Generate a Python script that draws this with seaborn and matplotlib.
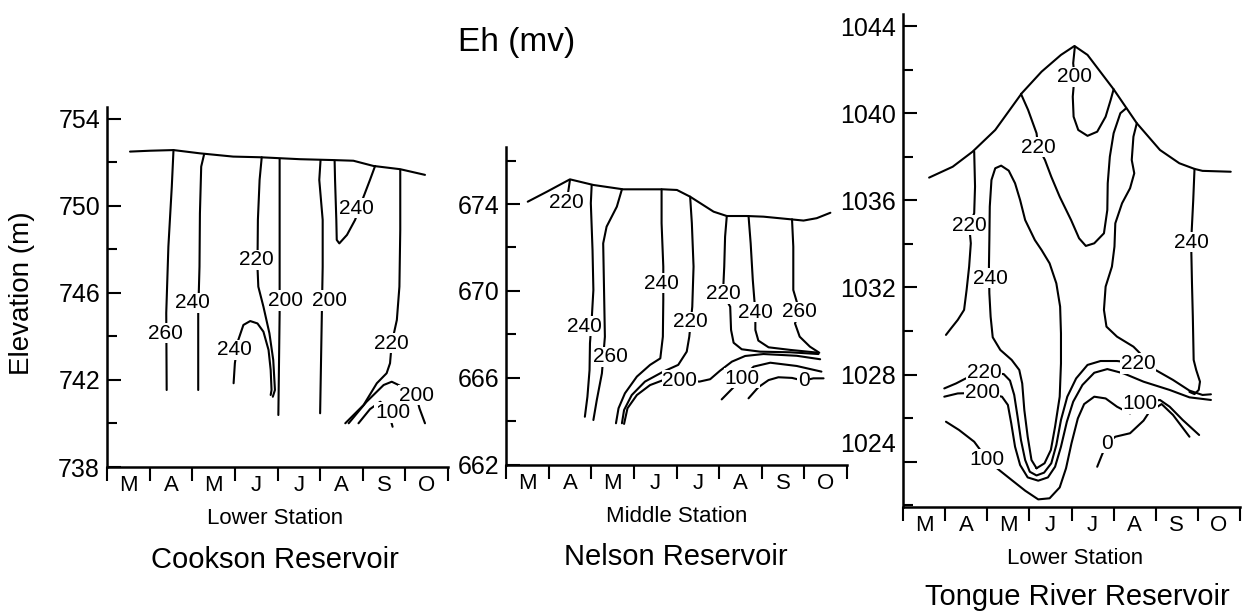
import matplotlib
matplotlib.use('Agg')
import matplotlib.pyplot as plt
import numpy as np
import seaborn as sns

sns.set_theme(style="white")
plt.rcParams['font.family'] = ['Liberation Sans', 'DejaVu Sans']
plt.rcParams['text.color'] = 'black'
plt.rcParams['axes.labelcolor'] = 'black'

# ─── DATA (x = months since 1 March, y = elevation m) ───
MONTHS = ['M', 'A', 'M', 'J', 'J', 'A', 'S', 'O']

# Cookson Reservoir, lower station
cookson_surface_x = [0.54, 1.01, 1.56, 2.18, 2.96, 3.59, 4.53, 5.31, 5.78, 6.25, 6.88, 7.46]
cookson_surface_y = [752.50, 752.54, 752.57, 752.42, 752.27, 752.24, 752.15, 752.11, 752.08, 751.84, 751.69, 751.43]
cookson_lines = [
    ([1.56, 1.52, 1.44, 1.39, 1.40], [752.57, 750.89, 748.13, 745.08, 741.54]),
    ([2.28, 2.21, 2.18, 2.17, 2.14, 2.14], [752.39, 751.81, 749.66, 747.21, 745.07, 741.54]),
    ([3.63, 3.58, 3.54, 3.53, 3.55, 3.67, 3.81, 3.90, 3.94, 3.89],
     [752.24, 751.20, 749.36, 747.21, 746.29, 745.37, 744.15, 742.92, 741.54, 741.23]),
    ([2.97, 3.00, 3.08, 3.20, 3.36, 3.53, 3.67, 3.79, 3.84, 3.86, 3.84],
     [741.85, 742.77, 743.84, 744.53, 744.71, 744.60, 744.22, 743.38, 742.46, 741.54, 741.31]),
    ([4.05, 4.05, 4.05, 4.02], [752.15, 748.13, 745.07, 740.39]),
    ([5.01, 4.98, 5.06, 5.06, 5.04, 5.00], [752.11, 751.20, 749.36, 747.20, 745.00, 740.47]),
    ([5.34, 5.35, 5.38, 5.39, 5.45, 5.63, 5.82, 6.02, 6.17, 6.29],
     [752.08, 751.20, 749.36, 748.44, 748.28, 748.67, 749.36, 750.43, 751.20, 751.84]),
    ([6.88, 6.88, 6.86, 6.80, 6.68, 6.64, 6.56, 6.33, 6.02, 5.59],
     [751.66, 748.90, 746.29, 744.76, 743.69, 742.77, 742.31, 741.85, 740.85, 740.01]),
    ([5.67, 6.09, 6.49, 6.68, 6.84, 7.25, 7.33, 7.46], [740.01, 741.00, 741.77, 741.92, 741.77, 741.31, 740.70, 740.01]),
    ([5.90, 6.17, 6.41, 6.70, 6.66, 6.70], [740.01, 740.66, 741.00, 740.50, 740.13, 739.85]),
]
cookson_labels = [("260", 1.38, 744.15), ("240", 2.01, 745.55), ("220", 3.50, 747.52),
                  ("240", 3.00, 743.38), ("200", 4.18, 745.65), ("200", 5.22, 745.65),
                  ("240", 5.86, 749.89), ("220", 6.68, 743.69), ("200", 7.25, 741.31),
                  ("100", 6.70, 740.50)]

# Nelson Reservoir, middle station
nelson_surface_x = [0.51, 0.96, 1.50, 2.05, 2.75, 3.69, 4.01, 4.32, 4.87, 5.18, 5.65, 6.04, 6.67, 6.98, 7.29, 7.61]
nelson_surface_y = [674.11, 674.57, 675.14, 674.88, 674.68, 674.68, 674.65, 674.34, 673.65, 673.45, 673.45,
                    673.42, 673.30, 673.24, 673.35, 673.60]
nelson_lines = [
    ([1.50, 1.44], [675.11, 674.30]),
    ([2.01, 1.99, 2.03, 2.05, 2.01, 1.97, 1.96, 1.91, 1.85],
     [674.88, 674.04, 671.88, 670.04, 668.66, 667.59, 666.35, 665.12, 664.20]),
    ([2.72, 2.60, 2.36, 2.28, 2.30, 2.32, 2.25, 2.13, 2.05],
     [674.68, 673.88, 672.96, 672.19, 670.04, 667.89, 666.20, 664.97, 664.05]),
    ([3.65, 3.65, 3.69, 3.69, 3.68, 3.62, 3.38, 3.07, 2.79, 2.64, 2.58],
     [674.68, 673.12, 671.12, 669.58, 667.89, 666.89, 666.59, 666.05, 665.28, 664.59, 663.90]),
    ([4.32, 4.36, 4.40, 4.37, 4.30, 4.24, 4.04, 3.69, 3.26, 2.95, 2.77, 2.72],
     [674.34, 673.12, 671.12, 669.27, 667.89, 667.20, 666.59, 666.28, 665.82, 665.20, 664.51, 663.90]),
    ([2.77, 2.85, 3.07, 3.38, 3.69, 4.08, 4.54, 4.79, 5.02, 5.30, 5.61, 6.04, 6.82, 7.37],
     [663.87, 664.59, 665.20, 665.66, 665.89, 665.89, 665.82, 665.93, 666.32, 666.74, 667.00, 667.09, 667.01, 666.85]),
    ([5.18, 5.14, 5.12, 5.09, 5.26, 5.28, 5.34, 5.53, 5.96, 6.67, 7.33],
     [673.45, 672.50, 671.12, 669.86, 669.27, 668.20, 667.61, 667.31, 667.20, 667.17, 667.09]),
    ([5.69, 5.74, 5.79, 5.85, 5.85, 5.92, 6.16, 6.67, 7.33],
     [673.45, 672.19, 670.50, 669.01, 668.20, 667.71, 667.40, 667.28, 667.15]),
    ([6.71, 6.74, 6.74, 6.89, 6.78, 6.89, 7.13, 7.35],
     [673.30, 672.04, 670.04, 669.04, 668.50, 667.89, 667.43, 667.15]),
    ([5.06, 5.34, 5.53, 5.81, 6.20, 6.82, 7.40], [665.00, 665.56, 665.97, 666.51, 666.69, 666.54, 666.28]),
    ([5.69, 5.92, 6.16, 6.39, 6.71, 6.98, 7.21, 7.45], [665.05, 665.56, 665.89, 666.02, 665.99, 665.86, 665.97, 665.97]),
]
nelson_labels = [("220", 1.42, 674.07), ("240", 1.85, 668.38), ("260", 2.44, 666.97),
                 ("240", 3.65, 670.35), ("220", 4.32, 668.58), ("200", 4.08, 665.89),
                 ("220", 5.09, 669.86), ("240", 5.85, 669.01), ("260", 6.89, 669.04),
                 ("100", 5.53, 665.97), ("0", 6.98, 665.86)]

# Tongue River Reservoir, lower station
tongue_surface_x = [0.62, 1.18, 1.65, 2.19, 2.82, 3.29, 3.75, 4.07, 4.38, 5.00, 5.55, 6.10, 6.56, 6.92, 7.11, 7.78]
tongue_surface_y = [1037.05, 1037.55, 1038.24, 1039.24, 1040.93, 1041.92, 1042.69, 1043.10, 1042.69, 1041.11,
                    1039.55, 1038.32, 1037.71, 1037.45, 1037.36, 1037.32]
tongue_lines = [
    ([4.08, 4.04, 4.07, 4.03, 4.05, 4.16, 4.38, 4.61, 4.81, 4.93, 5.00],
     [1043.07, 1042.31, 1041.69, 1040.77, 1039.85, 1039.24, 1038.97, 1039.16, 1039.85, 1040.62, 1041.11]),
    ([2.80, 2.97, 3.17, 3.21, 3.37, 3.52, 3.72, 3.99, 4.18, 4.34, 4.54, 4.77, 4.85, 4.86, 4.91, 5.00, 5.16, 5.30],
     [1040.90, 1040.16, 1039.09, 1038.45, 1037.86, 1037.09, 1036.17, 1035.10, 1034.26, 1033.91, 1034.03,
      1034.49, 1035.56, 1036.79, 1038.01, 1039.09, 1040.01, 1040.24]),
    ([1.69, 1.71, 1.69, 1.57, 1.61, 1.57, 1.51, 1.45, 1.30, 1.14, 1.02],
     [1038.25, 1036.64, 1035.41, 1034.87, 1034.03, 1032.96, 1031.89, 1030.97, 1030.51, 1030.12, 1029.82]),
    ([3.17, 3.36, 3.51, 3.61, 3.72, 3.75, 3.75, 3.73, 3.64, 3.48, 3.29, 3.13, 2.90, 2.78, 2.66, 2.51, 2.33,
      2.19, 2.10, 2.06, 2.05, 2.04, 2.05, 2.08, 2.13, 2.31, 2.58, 2.76, 2.83, 2.88, 2.96, 3.05, 3.17],
     [1023.69, 1023.92, 1024.53, 1025.60, 1026.98, 1028.51, 1029.89, 1031.12, 1032.19, 1033.11, 1033.72,
      1034.18, 1035.10, 1036.02, 1036.79, 1037.37, 1037.60, 1037.48, 1036.94, 1035.72, 1034.18, 1032.96,
      1031.73, 1030.66, 1029.71, 1029.13, 1028.67, 1028.21, 1027.59, 1026.37, 1025.14, 1024.07, 1023.69]),
    ([0.98, 1.26, 1.49, 1.92, 2.39, 2.54, 2.64, 2.72, 2.80, 2.90, 3.01, 3.17, 3.35, 3.52, 3.64, 3.75, 3.90,
      4.11, 4.38, 4.69, 5.08, 5.59, 6.02, 6.41, 6.80, 7.11, 7.31],
     [1027.36, 1027.59, 1027.82, 1028.08, 1028.02, 1027.72, 1027.06, 1026.06, 1024.99, 1024.07, 1023.53,
      1023.36, 1023.49, 1023.92, 1024.76, 1025.91, 1026.98, 1027.82, 1028.44, 1028.62, 1028.62, 1028.51,
      1028.18, 1027.75, 1027.26, 1027.06, 1027.09]),
    ([0.98, 1.30, 1.88, 2.35, 2.49, 2.57, 2.66, 2.78, 2.96, 3.21, 3.44, 3.61, 3.75, 3.89, 4.04, 4.26, 4.54,
      4.85, 5.24, 5.71, 6.33, 6.80, 7.31],
     [1026.98, 1027.13, 1027.16, 1026.98, 1026.60, 1025.75, 1024.68, 1023.84, 1023.27, 1023.12, 1023.27,
      1023.76, 1024.68, 1025.83, 1026.75, 1027.52, 1028.08, 1028.25, 1028.05, 1027.67, 1027.29, 1026.95, 1026.83]),
    ([5.55, 5.47, 5.43, 5.49, 5.39, 5.20, 5.04, 5.02, 4.96, 4.81, 4.77, 4.83, 5.08, 5.47, 5.63],
     [1039.55, 1038.93, 1037.86, 1037.25, 1036.56, 1035.87, 1034.95, 1033.88, 1032.96, 1032.04, 1030.97,
      1030.20, 1029.74, 1029.28, 1028.97]),
    ([6.92, 6.89, 6.84, 6.86, 6.88, 6.90, 6.96, 7.05, 7.02, 6.92, 6.80],
     [1037.45, 1036.02, 1034.08, 1032.19, 1030.66, 1028.67, 1028.21, 1027.67, 1027.29, 1027.10, 1027.20]),
    ([1.02, 1.33, 1.69, 2.00, 2.23, 2.58, 2.90, 3.21, 3.48, 3.72, 3.87, 4.00, 4.15, 4.30, 4.54, 4.81, 5.08,
      5.39, 5.63, 6.10, 6.33, 6.64, 7.03],
     [1025.83, 1025.45, 1024.91, 1024.10, 1023.69, 1023.15, 1022.66, 1022.26, 1022.31, 1022.81, 1023.69,
      1024.84, 1025.98, 1026.64, 1026.98, 1026.90, 1026.52, 1026.21, 1026.67, 1026.83, 1026.52, 1025.91, 1025.22]),
    ([4.61, 4.73, 4.85, 5.04, 5.39, 5.71, 5.85, 6.14, 6.41, 6.80],
     [1023.76, 1024.34, 1024.84, 1025.14, 1025.30, 1025.88, 1026.29, 1026.64, 1026.14, 1025.14]),
]
tongue_labels = [("200", 4.07, 1041.69), ("220", 3.21, 1038.45), ("220", 1.57, 1034.87),
                 ("240", 2.08, 1032.42), ("240", 6.84, 1034.08), ("220", 1.92, 1028.08),
                 ("200", 1.88, 1027.16), ("220", 5.59, 1028.51), ("100", 2.00, 1024.10),
                 ("100", 5.63, 1026.67), ("0", 4.85, 1024.84)]


def draw_panel(ax, surface_x, surface_y, lines, labels):
    sns.lineplot(x=surface_x, y=surface_y, sort=False, estimator=None, color='black', lw=1.5, ax=ax)
    for xs, ys in lines:
        sns.lineplot(x=xs, y=ys, sort=False, estimator=None, color='black', lw=1.5, ax=ax)
    for txt, x, y in labels:
        ax.text(x, y, txt, ha='center', va='center', fontsize=15, color='black', zorder=5,
                bbox=dict(facecolor='white', edgecolor='none', pad=0.5))


def style_axes(ax, ylim, xmax, major, minor, ylabels=None):
    ax.set_xlim(0, xmax)
    ax.set_ylim(*ylim)
    for s in ['top', 'right']:
        ax.spines[s].set_visible(False)
    for s in ['left', 'bottom']:
        ax.spines[s].set_linewidth(1.8)
        ax.spines[s].set_color('black')
    ax.set_xticks(range(0, 9))
    ax.set_xticklabels([])
    ax.set_xticks(np.arange(0.5, 8, 1.0), labels=MONTHS, minor=True)
    ax.tick_params(axis='x', which='major', bottom=True, direction='out', length=10, width=1.5, color='black')
    ax.tick_params(axis='x', which='minor', bottom=True, length=0, pad=6, labelsize=16, labelcolor='black')
    ax.set_yticks(major, labels=ylabels if ylabels is not None else [str(v) for v in major])
    ax.set_yticks(minor, minor=True)
    ax.tick_params(axis='y', which='both', left=True, direction='in', width=1.5, color='black',
                   labelsize=18, pad=5, labelcolor='black')
    ax.tick_params(axis='y', which='major', length=10)
    ax.tick_params(axis='y', which='minor', length=7)
    ax.set_xlabel('')
    ax.set_ylabel('')
    ax.set_facecolor('white')


fig = plt.figure(figsize=(12.44, 6.12), dpi=100)
W, H = 1244.0, 612.0

ax1 = fig.add_axes([107 / W, 1 - 467 / H, 341 / W, 360 / H])
ax2 = fig.add_axes([506 / W, 1 - 464.5 / H, 341 / W, 317.5 / H])
ax3 = fig.add_axes([903 / W, 1 - 507 / H, 337 / W, 493 / H])

draw_panel(ax1, cookson_surface_x, cookson_surface_y, cookson_lines, cookson_labels)
draw_panel(ax2, nelson_surface_x, nelson_surface_y, nelson_lines, nelson_labels)
draw_panel(ax3, tongue_surface_x, tongue_surface_y, tongue_lines, tongue_labels)

style_axes(ax1, (738, 754.55), 8, [738, 742, 746, 750, 754], [740, 744, 748, 752])
style_axes(ax2, (662, 676.63), 8, [662, 666, 670, 674], [664, 668, 672, 676])
t_major = [1024, 1028, 1032, 1036, 1040, 1044]
style_axes(ax3, (1021.91, 1044.57), 7.9, t_major, [1022, 1026, 1030, 1034, 1038, 1042],
           ylabels=['' if v == 1024 else str(v) for v in t_major])
# the 1024 label sits a little above its tick in the original
ax3.annotate('1024', xy=(0, 1024.75), xycoords=ax3.get_yaxis_transform(), xytext=(-5, 0),
             textcoords='offset points', ha='right', va='center', fontsize=18, color='black')

fig.text(517 / W, 1 - 42 / H, 'Eh (mv)', fontsize=24, ha='center', va='center')
fig.text(22 / W, 1 - 293 / H, 'Elevation (m)', fontsize=20, rotation=90, ha='center', va='center')
fig.text(275 / W, 1 - 518 / H, 'Lower Station', fontsize=16, ha='center', va='center')
fig.text(275 / W, 1 - 560 / H, 'Cookson Reservoir', fontsize=21, ha='center', va='center')
fig.text(677 / W, 1 - 517 / H, 'Middle Station', fontsize=16, ha='center', va='center')
fig.text(676 / W, 1 - 557 / H, 'Nelson Reservoir', fontsize=21, ha='center', va='center')
fig.text(1075 / W, 1 - 558 / H, 'Lower Station', fontsize=16, ha='center', va='center')
fig.text(1077 / W, 1 - 597 / H, 'Tongue River Reservoir', fontsize=21, ha='center', va='center')

fig.savefig('out.png', dpi=100, facecolor='white')
